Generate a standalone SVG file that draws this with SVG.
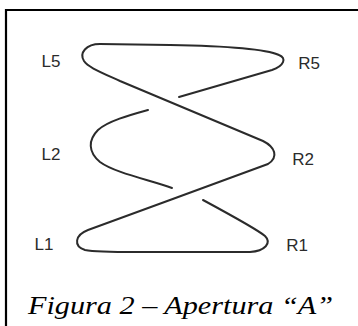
<svg xmlns="http://www.w3.org/2000/svg" width="358" height="326" viewBox="0 0 358 326">
<style>
.frame{stroke:#000;stroke-width:2.2;fill:none}
.curve{stroke:#2b2b2b;stroke-width:2;fill:none;stroke-linecap:round;stroke-linejoin:round}
.lbl{font-family:"Liberation Sans",Arial,sans-serif;font-size:17px;fill:#2b2b2b;text-anchor:middle}
.cap{font-family:"Liberation Serif","Times New Roman",serif;font-style:italic;font-size:25px;fill:#000}
</style>
<rect width="358" height="326" fill="#fff"/>
<g id="frame">
<path class="frame" d="M6 326 V10 H358"/>
</g>
<g id="connectors">
<path class="curve" d="M179 97 L272 70 C284 66 287 58 279 55 C268 50 230 46 170 45 L100 44 C86 44 79 53 84 61 C88 67 98 71 120 81 L263 141 C275 147 279 157 268 164 L170 200 L88 230 C75 235 73 246 85 250 C100 253 130 252 170 252 L250 252 C265 251 272 243 265 236 C258 230 240 220 203 200"/>
<path class="curve" d="M148 110 C130 115 108 121 98 130 C88 140 88 152 100 162 C115 173 150 180 172 188"/>
</g>
<g id="L5"><text class="lbl" x="51" y="67">L5</text></g>
<g id="R5"><text class="lbl" x="309" y="69">R5</text></g>
<g id="L2"><text class="lbl" x="51" y="160">L2</text></g>
<g id="R2"><text class="lbl" x="303" y="165">R2</text></g>
<g id="L1"><text class="lbl" x="44" y="250">L1</text></g>
<g id="R1"><text class="lbl" x="297" y="251">R1</text></g>
<g id="caption"><text class="cap" x="28" y="314" textLength="305" lengthAdjust="spacingAndGlyphs">Figura 2 – Apertura “A”</text></g>
</svg>
